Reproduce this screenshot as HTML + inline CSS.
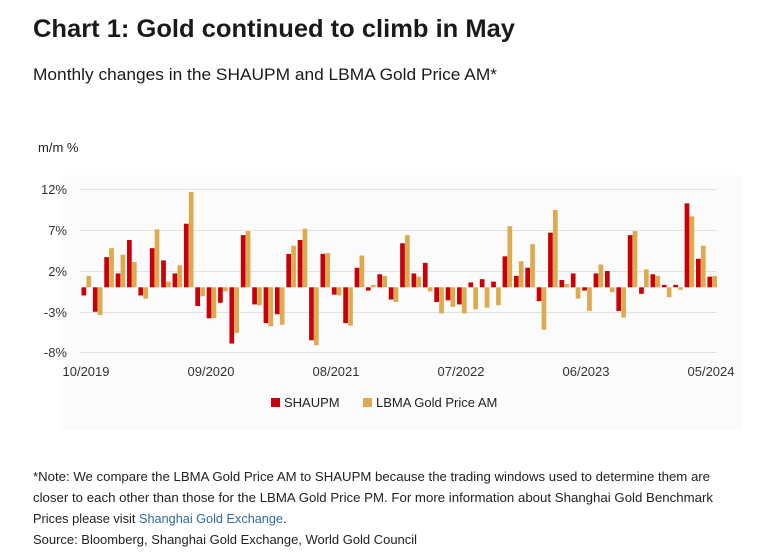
<!DOCTYPE html>
<html><head><meta charset="utf-8"><style>
html,body{margin:0;padding:0;background:#fff;width:768px;height:553px;overflow:hidden}
svg{display:block;font-family:"Liberation Sans",sans-serif}
</style></head><body>
<svg id="s" width="768" height="553" viewBox="0 0 768 553">
<text x="33" y="37" font-size="25" font-weight="bold" fill="#1a1a1a" textLength="482" lengthAdjust="spacingAndGlyphs">Chart 1: Gold continued to climb in May</text>
<text x="33" y="80" font-size="16.5" fill="#1a1a1a" textLength="464" lengthAdjust="spacingAndGlyphs">Monthly changes in the SHAUPM and LBMA Gold Price AM*</text>
<rect x="60" y="175" width="682" height="255" fill="#fbfbfb"/>
<text x="38" y="152" font-size="13" fill="#222">m/m %</text>
<g id="grid" stroke="#e2e2e2" stroke-width="1">
<line x1="80" x2="717" y1="189.5" y2="189.5"/>
<line x1="80" x2="717" y1="230.5" y2="230.5"/>
<line x1="80" x2="717" y1="271.5" y2="271.5"/>
<line x1="80" x2="717" y1="312.5" y2="312.5"/>
<line x1="80" x2="717" y1="352.5" y2="352.5"/>
</g>
<g font-size="13" fill="#333" text-anchor="end">
<text x="67" y="194">12%</text><text x="67" y="235">7%</text><text x="67" y="276">2%</text><text x="67" y="317">-3%</text><text x="67" y="357">-8%</text>
</g>
<g id="bars"></g>
<g font-size="13" fill="#333" text-anchor="middle">
<text x="86" y="376">10/2019</text><text x="211" y="376">09/2020</text><text x="336" y="376">08/2021</text><text x="461" y="376">07/2022</text><text x="586" y="376">06/2023</text><text x="711" y="376">05/2024</text>
</g>
<rect x="271" y="398" width="9" height="9" fill="#c8000a"/>
<text x="284" y="407" font-size="13" fill="#222">SHAUPM</text>
<rect x="363" y="398" width="9" height="9" fill="#dcab50"/>
<text x="376" y="407" font-size="13" fill="#222">LBMA Gold Price AM</text>
<g font-size="12.5" fill="#222">
<text x="33" y="481" textLength="677" lengthAdjust="spacingAndGlyphs">*Note: We compare the LBMA Gold Price AM to SHAUPM because the trading windows used to determine them are</text>
<text x="33" y="502" textLength="680" lengthAdjust="spacingAndGlyphs">closer to each other than those for the LBMA Gold Price PM. For more information about Shanghai Gold Benchmark</text>
<text x="33" y="523"><tspan textLength="106" lengthAdjust="spacingAndGlyphs">Prices please visit </tspan><tspan fill="#2e6a9e" textLength="144" lengthAdjust="spacingAndGlyphs">Shanghai Gold Exchange</tspan>.</text>
<text x="33" y="544" textLength="384" lengthAdjust="spacingAndGlyphs">Source: Bloomberg, Shanghai Gold Exchange, World Gold Council</text>
</g>
</svg>
<script>
var d=[[-1,1.4],[-3,-3.4],[3.7,4.8],[1.7,4],[5.8,3.1],[-1,-1.4],[4.8,7.1],[3.3,0.7],[1.7,2.7],[7.8,11.7],
[-2.3,-1.1],[-3.8,-3.8],[-1.9,-0.5],[-6.9,-5.6],[6.4,6.9],[-2.1,-2.2],[-4.4,-4.8],[-3.3,-4.6],[4.1,5.1],[5.8,7.2],
[-6.5,-7.1],[4.1,4.2],[-0.9,-1],[-4.4,-4.7],[2.4,3.9],[-0.4,0.3],[1.6,1.4],[-1.5,-1.8],[5.4,6.4],[1.7,1.3],
[3,-0.5],[-1.8,-3.2],[-1.6,-2.4],[-2.1,-3.2],[0.6,-2.7],[1,-2.5],[0.7,-2.2],[3.8,7.5],[1.4,3.2],[2.4,5.3],
[-1.7,-5.2],[6.7,9.5],[0.9,0.4],[1.7,-1.4],[-0.4,-2.9],[1.7,2.8],[2,-0.6],[-2.9,-3.7],[6.4,6.9],[-0.8,2.2],
[1.6,1.4],[0.3,-1.2],[0.3,-0.3],[10.3,8.7],[3.5,5.1],[1.3,1.4]];
var z=287.3,k=8.15,g=document.getElementById('bars'),h='';
d.forEach(function(p,i){var x=81.5+i*11.38;
[[p[0],'#c8000a',0],[p[1],'#dcab50',4.9]].forEach(function(b){var v=b[0],y=v>0?z-v*k:z,hh=Math.max(Math.abs(v)*k,1);
h+='<rect x="'+(x+b[2]).toFixed(2)+'" y="'+y.toFixed(2)+'" width="4.7" height="'+hh.toFixed(2)+'" fill="'+b[1]+'"/>';});});
g.innerHTML=h;
</script>
</body></html>
